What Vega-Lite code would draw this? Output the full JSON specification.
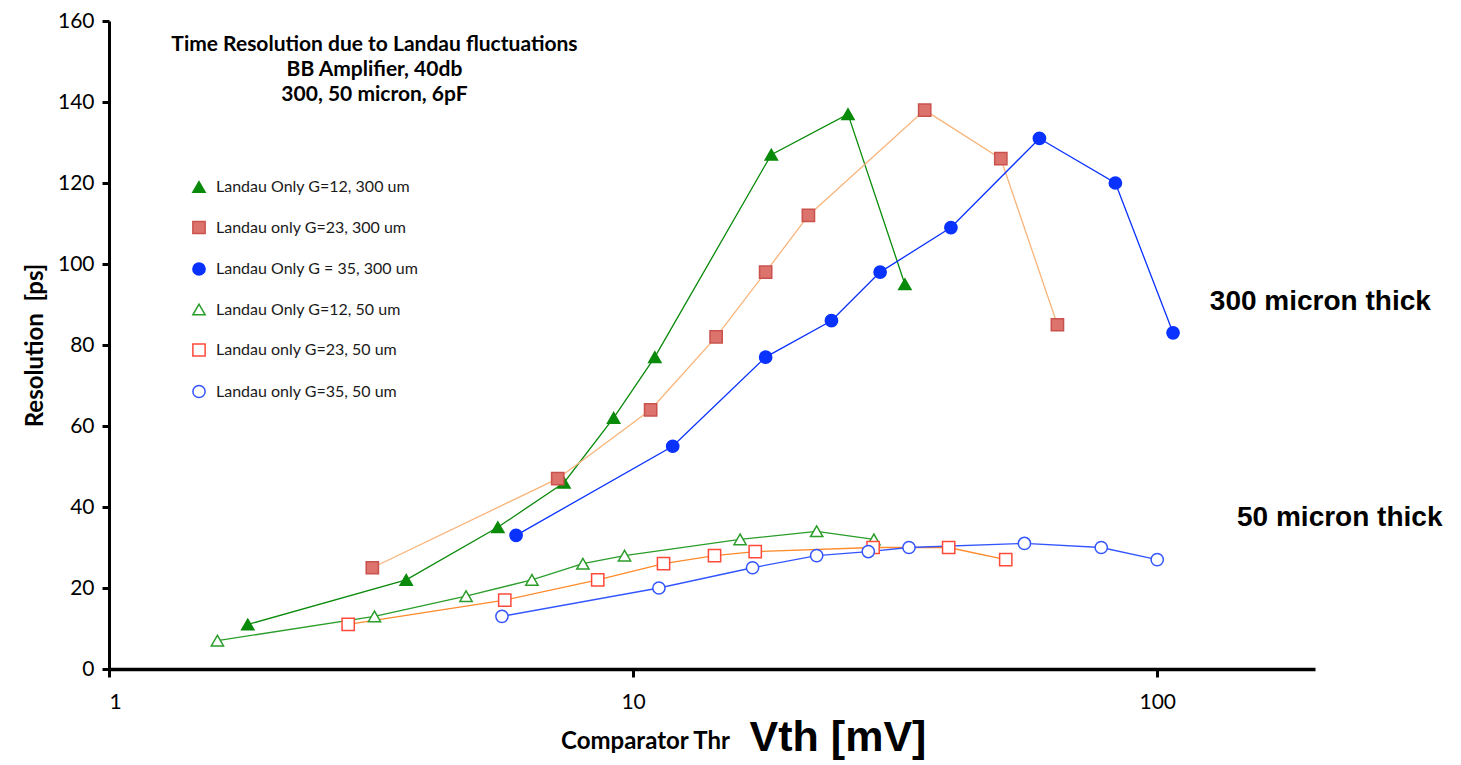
{
  "$schema": "https://vega.github.io/schema/vega-lite/v6.json",
  "width": 1206,
  "height": 648,
  "autosize": {"type": "none"},
  "padding": {"left": 109, "top": 21, "right": 146, "bottom": 96},
  "background": "white",
  "config": {
    "view": {"stroke": null},
    "font": "Lato",
    "axis": {"grid": false, "domainColor": "black", "tickColor": "black", "labelColor": "black", "titleColor": "black", "labelFont": "Lato", "titleFont": "Lato"},
    "legend": {"labelLimit": 400}
  },
  "datasets": {
    "main": [
      {"series": "Landau Only G=12, 300 um", "vth": 1.84, "res": 11},
      {"series": "Landau Only G=12, 300 um", "vth": 3.69, "res": 22},
      {"series": "Landau Only G=12, 300 um", "vth": 5.52, "res": 35},
      {"series": "Landau Only G=12, 300 um", "vth": 7.38, "res": 46},
      {"series": "Landau Only G=12, 300 um", "vth": 9.18, "res": 62},
      {"series": "Landau Only G=12, 300 um", "vth": 11.0, "res": 77},
      {"series": "Landau Only G=12, 300 um", "vth": 18.35, "res": 127},
      {"series": "Landau Only G=12, 300 um", "vth": 25.7, "res": 137},
      {"series": "Landau Only G=12, 300 um", "vth": 33.0, "res": 95},
      {"series": "Landau only G=23, 300 um", "vth": 3.18, "res": 25},
      {"series": "Landau only G=23, 300 um", "vth": 7.18, "res": 47},
      {"series": "Landau only G=23, 300 um", "vth": 10.8, "res": 64},
      {"series": "Landau only G=23, 300 um", "vth": 14.4, "res": 82},
      {"series": "Landau only G=23, 300 um", "vth": 17.9, "res": 98},
      {"series": "Landau only G=23, 300 um", "vth": 21.6, "res": 112},
      {"series": "Landau only G=23, 300 um", "vth": 36.0, "res": 138},
      {"series": "Landau only G=23, 300 um", "vth": 50.3, "res": 126},
      {"series": "Landau only G=23, 300 um", "vth": 64.5, "res": 85},
      {"series": "Landau Only G = 35, 300 um", "vth": 5.98, "res": 33},
      {"series": "Landau Only G = 35, 300 um", "vth": 11.9, "res": 55},
      {"series": "Landau Only G = 35, 300 um", "vth": 17.9, "res": 77},
      {"series": "Landau Only G = 35, 300 um", "vth": 23.9, "res": 86},
      {"series": "Landau Only G = 35, 300 um", "vth": 29.6, "res": 98},
      {"series": "Landau Only G = 35, 300 um", "vth": 40.4, "res": 109},
      {"series": "Landau Only G = 35, 300 um", "vth": 59.6, "res": 131},
      {"series": "Landau Only G = 35, 300 um", "vth": 83.2, "res": 120},
      {"series": "Landau Only G = 35, 300 um", "vth": 107.2, "res": 83},
      {"series": "Landau Only G=12, 50 um", "vth": 1.61, "res": 7},
      {"series": "Landau Only G=12, 50 um", "vth": 3.21, "res": 13},
      {"series": "Landau Only G=12, 50 um", "vth": 4.80, "res": 18},
      {"series": "Landau Only G=12, 50 um", "vth": 6.41, "res": 22},
      {"series": "Landau Only G=12, 50 um", "vth": 8.02, "res": 26},
      {"series": "Landau Only G=12, 50 um", "vth": 9.63, "res": 28},
      {"series": "Landau Only G=12, 50 um", "vth": 16.0, "res": 32},
      {"series": "Landau Only G=12, 50 um", "vth": 22.4, "res": 34},
      {"series": "Landau Only G=12, 50 um", "vth": 28.8, "res": 32},
      {"series": "Landau only G=23, 50 um", "vth": 2.86, "res": 11},
      {"series": "Landau only G=23, 50 um", "vth": 5.69, "res": 17},
      {"series": "Landau only G=23, 50 um", "vth": 8.56, "res": 22},
      {"series": "Landau only G=23, 50 um", "vth": 11.43, "res": 26},
      {"series": "Landau only G=23, 50 um", "vth": 14.3, "res": 28},
      {"series": "Landau only G=23, 50 um", "vth": 17.1, "res": 29},
      {"series": "Landau only G=23, 50 um", "vth": 28.7, "res": 30},
      {"series": "Landau only G=23, 50 um", "vth": 40.0, "res": 30},
      {"series": "Landau only G=23, 50 um", "vth": 51.4, "res": 27},
      {"series": "Landau only G=35, 50 um", "vth": 5.62, "res": 13},
      {"series": "Landau only G=35, 50 um", "vth": 11.2, "res": 20},
      {"series": "Landau only G=35, 50 um", "vth": 16.9, "res": 25},
      {"series": "Landau only G=35, 50 um", "vth": 22.4, "res": 28},
      {"series": "Landau only G=35, 50 um", "vth": 28.1, "res": 29},
      {"series": "Landau only G=35, 50 um", "vth": 33.6, "res": 30},
      {"series": "Landau only G=35, 50 um", "vth": 55.8, "res": 31},
      {"series": "Landau only G=35, 50 um", "vth": 78.2, "res": 30},
      {"series": "Landau only G=35, 50 um", "vth": 100, "res": 27}
    ],
    "notes": [
      {"label": "Time Resolution due to Landau fluctuations\nBB Amplifier, 40db\n300, 50 micron, 6pF", "vth": 3.21, "res": 156.7, "kind": "title"},
      {"label": "300 micron thick", "vth": 126, "res": 90.6, "kind": "side"},
      {"label": "50 micron thick", "vth": 142, "res": 37.3, "kind": "side"},
      {"label": "Vth [mV]", "vth": 24.6, "res": -17, "kind": "big"}
    ]
  },
  "layer": [
    {
      "data": {"name": "main"},
      "mark": {"type": "line", "strokeWidth": 1.3, "clip": false},
      "encoding": {
        "x": {"field": "vth", "type": "quantitative",
          "scale": {"type": "log", "domain": [1, 200], "nice": false},
          "axis": {"values": [1, 10, 100], "format": "d", "labelFontSize": 21, "labelPadding": 14, "tickSize": 8, "tickWidth": 3, "domainWidth": 3.5,
            "title": "Comparator Thr", "titleFontSize": 24, "titleFontWeight": "bold", "titleX": 536, "titleY": 72, "titleBaseline": "middle", "titleAnchor": "middle", "titleAlign": "center"}},
        "y": {"field": "res", "type": "quantitative",
          "scale": {"domain": [0, 160], "nice": false},
          "axis": {"values": [0, 20, 40, 60, 80, 100, 120, 140, 160], "labelFontSize": 21, "labelPadding": 8, "tickSize": 7, "tickWidth": 3, "domainWidth": 3,
            "title": "Resolution\u00a0\u00a0[ps]", "titleFontSize": 24, "titleFontWeight": "bold", "titlePadding": 10}},
        "color": {"field": "series", "type": "nominal", "legend": null,
          "scale": {"range": ["#0a32ff", "#0a8a0a", "#2a9d2a", "#f9b47a", "#ff8a2a", "#3355ff"]}}
      }
    },
    {
      "data": {"name": "main"},
      "mark": {"type": "point", "strokeWidth": 1.5, "opacity": 1, "clip": false},
      "encoding": {
        "x": {"field": "vth", "type": "quantitative"},
        "y": {"field": "res", "type": "quantitative"},
        "shape": {"field": "series", "type": "nominal",
          "scale": {"domain": ["Landau Only G=12, 300 um", "Landau only G=23, 300 um", "Landau Only G = 35, 300 um", "Landau Only G=12, 50 um", "Landau only G=23, 50 um", "Landau only G=35, 50 um"],
            "range": ["triangle-up", "square", "circle", "triangle-up", "square", "circle"]},
          "legend": {"title": null, "orient": "none", "legendX": 82, "legendY": 158, "padding": 0, "labelFontSize": 16, "labelFont": "Lato", "labelColor": "#1a1a1a", "labelOffset": 9, "rowPadding": 21.5, "labelLimit": 400,
            "encode": {"symbols": {"strokeWidth": {"value": 1.3},
              "shape": {"value": {"expr": "indexOf(datum.value,'G=12')>=0 ? 'M-2.2,0H-0.8M0.8,0H2.2M0,-0.85L0.9,0.7L-0.9,0.7Z' : indexOf(datum.value,'G=23')>=0 ? 'M-2.2,0H-0.7M0.7,0H2.2M-0.7,-0.7H0.7V0.7H-0.7Z' : indexOf(datum.value,'G = 35')>=0 ? 'M-1.8,0H-0.75M0.75,0H1.8M0.75,0A0.75,0.75 0 1,1 -0.75,0A0.75,0.75 0 1,1 0.75,0Z' : 'M-2.2,0H-0.85M0.85,0H2.2M0.85,0A0.85,0.85 0 1,1 -0.85,0A0.85,0.85 0 1,1 0.85,0Z'"}}}}}},
        "stroke": {"field": "series", "type": "nominal",
          "scale": {"domain": ["Landau Only G=12, 300 um", "Landau only G=23, 300 um", "Landau Only G = 35, 300 um", "Landau Only G=12, 50 um", "Landau only G=23, 50 um", "Landau only G=35, 50 um"],
            "range": ["#0a8a0a", "#c9524d", "#0a32ff", "#2a9d2a", "#ff4a3a", "#3355ff"]},
          "legend": {"title": null, "orient": "none", "legendX": 82, "legendY": 158, "padding": 0, "labelFontSize": 16, "labelFont": "Lato", "labelColor": "#1a1a1a", "labelOffset": 9, "rowPadding": 21.5, "labelLimit": 400,
            "encode": {"symbols": {"strokeWidth": {"value": 1.3},
              "shape": {"value": {"expr": "indexOf(datum.value,'G=12')>=0 ? 'M-2.2,0H-0.8M0.8,0H2.2M0,-0.85L0.9,0.7L-0.9,0.7Z' : indexOf(datum.value,'G=23')>=0 ? 'M-2.2,0H-0.7M0.7,0H2.2M-0.7,-0.7H0.7V0.7H-0.7Z' : indexOf(datum.value,'G = 35')>=0 ? 'M-1.8,0H-0.75M0.75,0H1.8M0.75,0A0.75,0.75 0 1,1 -0.75,0A0.75,0.75 0 1,1 0.75,0Z' : 'M-2.2,0H-0.85M0.85,0H2.2M0.85,0A0.85,0.85 0 1,1 -0.85,0A0.85,0.85 0 1,1 0.85,0Z'"}}}}}},
        "fill": {"field": "series", "type": "nominal",
          "scale": {"domain": ["Landau Only G=12, 300 um", "Landau only G=23, 300 um", "Landau Only G = 35, 300 um", "Landau Only G=12, 50 um", "Landau only G=23, 50 um", "Landau only G=35, 50 um"],
            "range": ["#0a8a0a", "#dc736d", "#0a32ff", "#ffffff", "#ffffff", "#ffffff"]},
          "legend": {"title": null, "orient": "none", "legendX": 82, "legendY": 158, "padding": 0, "labelFontSize": 16, "labelFont": "Lato", "labelColor": "#1a1a1a", "labelOffset": 9, "rowPadding": 21.5, "labelLimit": 400,
            "encode": {"symbols": {"strokeWidth": {"value": 1.3},
              "shape": {"value": {"expr": "indexOf(datum.value,'G=12')>=0 ? 'M-2.2,0H-0.8M0.8,0H2.2M0,-0.85L0.9,0.7L-0.9,0.7Z' : indexOf(datum.value,'G=23')>=0 ? 'M-2.2,0H-0.7M0.7,0H2.2M-0.7,-0.7H0.7V0.7H-0.7Z' : indexOf(datum.value,'G = 35')>=0 ? 'M-1.8,0H-0.75M0.75,0H1.8M0.75,0A0.75,0.75 0 1,1 -0.75,0A0.75,0.75 0 1,1 0.75,0Z' : 'M-2.2,0H-0.85M0.85,0H2.2M0.85,0A0.85,0.85 0 1,1 -0.85,0A0.85,0.85 0 1,1 0.85,0Z'"}}}}}},
        "size": {"field": "series", "type": "nominal",
          "scale": {"domain": ["Landau Only G=12, 300 um", "Landau only G=23, 300 um", "Landau Only G = 35, 300 um", "Landau Only G=12, 50 um", "Landau only G=23, 50 um", "Landau only G=35, 50 um"],
            "range": [150, 150, 230, 150, 150, 150]},
          "legend": {"title": null, "orient": "none", "legendX": 82, "legendY": 158, "padding": 0, "labelFontSize": 16, "labelFont": "Lato", "labelColor": "#1a1a1a", "labelOffset": 9, "rowPadding": 21.5, "labelLimit": 400,
            "encode": {"symbols": {"strokeWidth": {"value": 1.3},
              "shape": {"value": {"expr": "indexOf(datum.value,'G=12')>=0 ? 'M-2.2,0H-0.8M0.8,0H2.2M0,-0.85L0.9,0.7L-0.9,0.7Z' : indexOf(datum.value,'G=23')>=0 ? 'M-2.2,0H-0.7M0.7,0H2.2M-0.7,-0.7H0.7V0.7H-0.7Z' : indexOf(datum.value,'G = 35')>=0 ? 'M-1.8,0H-0.75M0.75,0H1.8M0.75,0A0.75,0.75 0 1,1 -0.75,0A0.75,0.75 0 1,1 0.75,0Z' : 'M-2.2,0H-0.85M0.85,0H2.2M0.85,0A0.85,0.85 0 1,1 -0.85,0A0.85,0.85 0 1,1 0.85,0Z'"}}}}}}
      }
    },
    {
      "data": {"name": "notes"},
      "transform": [{"filter": "datum.kind === 'title'"}],
      "mark": {"type": "text", "align": "center", "baseline": "top", "fontSize": 21, "fontWeight": "bold", "font": "Lato", "lineHeight": 25, "lineBreak": "\n", "color": "black"},
      "encoding": {"x": {"field": "vth", "type": "quantitative"}, "y": {"field": "res", "type": "quantitative"}, "text": {"field": "label"}}
    },
    {
      "data": {"name": "notes"},
      "transform": [{"filter": "datum.kind === 'side'"}],
      "mark": {"type": "text", "align": "left", "baseline": "middle", "fontSize": 28, "fontWeight": "bold", "font": "Liberation Sans", "color": "black"},
      "encoding": {"x": {"field": "vth", "type": "quantitative"}, "y": {"field": "res", "type": "quantitative"}, "text": {"field": "label"}}
    },
    {
      "data": {"name": "notes"},
      "transform": [{"filter": "datum.kind === 'big'"}],
      "mark": {"type": "text", "align": "center", "baseline": "middle", "fontSize": 43, "fontWeight": "bold", "font": "Liberation Sans", "color": "black"},
      "encoding": {"x": {"field": "vth", "type": "quantitative"}, "y": {"field": "res", "type": "quantitative"}, "text": {"field": "label"}}
    }
  ]
}
